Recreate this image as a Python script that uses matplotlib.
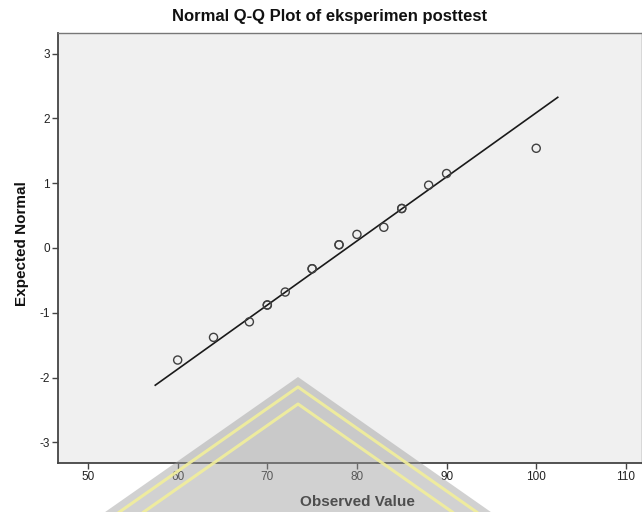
import numpy as np
import matplotlib
matplotlib.use("Agg")
import matplotlib.pyplot as plt
from matplotlib.patches import Polygon

plt.rcParams['font.family'] = ['Liberation Sans', 'DejaVu Sans']
plt.rcParams['axes.unicode_minus'] = False

# observed values (ties repeated) and their expected normal scores
observed = [60, 64, 68, 70, 70, 72, 75, 75, 78, 78, 80, 83, 85, 85, 88, 90, 100]
expected = [-1.73, -1.38, -1.14, -0.88, -0.88, -0.68, -0.32, -0.32, 0.05, 0.05,
            0.21, 0.32, 0.61, 0.61, 0.97, 1.15, 1.54]

# reference line: expected = (x - mean) / sd
line_x = [57.5, 102.4]
mean_x = 78.9
sd_x = 10.1

x_ticks = [50, 60, 70, 80, 90, 100, 110]
y_ticks = [-3, -2, -1, 0, 1, 2, 3]

W, H = 642, 512
fig = plt.figure(figsize=(W / 100, H / 100), dpi=100)
fig.patch.set_facecolor('white')

def fp(x, y):
    # pixel -> figure fraction
    return (x / W, 1 - y / H)

ax = fig.add_axes([58 / W, (H - 463) / H, (W - 58) / W, (463 - 33) / H])
ax.set_facecolor('#f0f0f0')

lx = np.array(line_x)
ax.plot(lx, (lx - mean_x) / sd_x, color='#1a1a1a', lw=1.2, zorder=2)

ax.scatter(observed, expected, s=34, facecolors='none', edgecolors='#404040',
           linewidths=1.0, zorder=3)

ax.set_xlim(46.65, 111.8)
ax.set_ylim(-3.32, 3.32)
ax.set_xticks(x_ticks)
ax.set_yticks(y_ticks)
ax.tick_params(axis='both', direction='out', length=4, width=1, color='#444444',
               labelsize=8.5, labelcolor='#222222', pad=2)

for s in ['left', 'bottom']:
    ax.spines[s].set_color('#444444')
    ax.spines[s].set_linewidth(1.3)
for s in ['top', 'right']:
    ax.spines[s].set_color('#777777')
    ax.spines[s].set_linewidth(1.0)

fig.text(330 / W, 1 - 16 / H, 'Normal Q-Q Plot of eksperimen posttest',
         ha='center', va='center', fontsize=12, fontweight='bold', color='#111111')
fig.text(357 / W, 1 - 502 / H, 'Observed Value', ha='center', va='center',
         fontsize=11, fontweight='bold', color='#111111')
fig.text(22 / W, 1 - 244 / H, 'Expected Normal', ha='center', va='center',
         rotation=90, fontsize=11, fontweight='bold', color='#111111')

# faint logo watermark at the bottom
apex = (298, 377)
slope = 0.70
wm = Polygon([fp(*apex), fp(apex[0] + (H - apex[1]) / slope, H),
              fp(apex[0] - (H - apex[1]) / slope, H)], closed=True,
             transform=fig.transFigure, facecolor='#9a9a9a', edgecolor='none',
             alpha=0.45, zorder=10)
fig.add_artist(wm)
for dy in [10, 27]:
    top = apex[1] + dy
    half = (H - top) / slope
    xs = [(apex[0] - half) / W, apex[0] / W, (apex[0] + half) / W]
    ys = [0, 1 - top / H, 0]
    fig.add_artist(plt.Line2D(xs, ys, transform=fig.transFigure, color='#f2ef9a',
                              lw=2.2, alpha=0.9, zorder=11))

fig.savefig('out.png', dpi=100)
